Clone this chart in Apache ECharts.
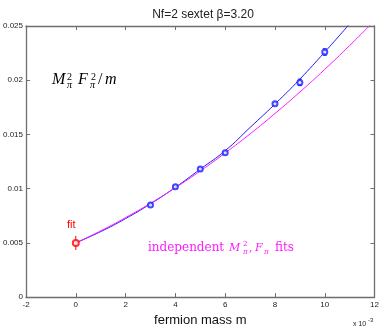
<!DOCTYPE html>
<html>
<head>
<meta charset="utf-8">
<script src="https://cdn.jsdelivr.net/npm/echarts@6/dist/echarts.min.js"></script>
<style>
  html, body { margin: 0; padding: 0; background: #fff; }
  #chart { width: 382px; height: 332px; }
</style>
</head>
<body>
<div id="chart"></div>
<script>
// x values are in units of 10^-3
var xTicks = [-2, 0, 2, 4, 6, 8, 10, 12];
var yTickLabels = ['0', '0.005', '0.01', '0.015', '0.02', '0.025'];

// measured points (blue) with error bars
var ptX = [3, 4, 5, 6, 8, 9, 10];
var ptY = [0.0085, 0.01017, 0.01182, 0.0133, 0.01784, 0.0198, 0.0226];
var ptErr = [0.0001, 0.0001, 0.0001, 0.0001, 0.0001, 0.0003, 0.0003];

// extrapolated fit point (red)
var fitX = [0];
var fitY = [0.0050];
var fitErr = [0.00065];

// blue fit curve
var blueCurveX = [0, 1, 2, 3, 4, 5, 6, 7, 8, 9, 10, 11];
var blueCurveY = [0.0050, 0.00604, 0.00724, 0.0086, 0.01012, 0.0118, 0.0135, 0.01564, 0.0178, 0.0201, 0.0226, 0.0252];

// magenta curve (independent fits)
var magCurveX = [0, 1, 2, 3, 4, 5, 6, 7, 8, 9, 10, 11, 12];
var magCurveY = [0.0050, 0.00611, 0.00733, 0.00865, 0.01009, 0.01163, 0.01329, 0.01505, 0.01693, 0.01891, 0.0210, 0.0232, 0.0255];

function zip(a, b, c) {
  return a.map(function (v, i) { return c ? [v, b[i], c[i]] : [v, b[i]]; });
}

function errorBars(color, cap) {
  return function (params, api) {
    var x = api.value(0), y = api.value(1), e = api.value(2);
    var hi = api.coord([x, y + e]);
    var lo = api.coord([x, y - e]);
    var st = { stroke: color, lineWidth: 1 };
    var kids = [{ type: 'line', shape: { x1: hi[0], y1: hi[1], x2: lo[0], y2: lo[1] }, style: st }];
    if (cap > 0) {
      kids.push({ type: 'line', shape: { x1: hi[0] - cap, y1: hi[1], x2: hi[0] + cap, y2: hi[1] }, style: st });
      kids.push({ type: 'line', shape: { x1: lo[0] - cap, y1: lo[1], x2: lo[0] + cap, y2: lo[1] }, style: st });
    }
    return { type: 'group', children: kids };
  };
}

var axisCol = '#6e6e6e';
var boxLine = { show: true, onZero: false, lineStyle: { color: axisCol, width: 1.3 } };
var tick = { show: true, inside: true, length: 4, lineStyle: { color: axisCol } };

var chart = echarts.init(document.getElementById('chart'));
var option = {
  animation: false,
  backgroundColor: '#fff',
  textStyle: { fontFamily: 'Liberation Sans' },
  title: {
    text: 'Nf=2 sextet \u03b2=3.20',
    left: 198, top: 4, textAlign: 'center',
    textStyle: { fontSize: 12, fontWeight: 'normal', color: '#222', fontFamily: 'Liberation Sans' }
  },
  grid: { left: 22, right: 7, top: 26, bottom: 28 },
  xAxis: [{
    type: 'value', min: -2, max: 12, interval: 2, position: 'bottom',
    axisLine: boxLine, axisTick: tick, splitLine: { show: false },
    axisLabel: { fontSize: 8, margin: 4, color: '#222',
      formatter: function (v) { return xTicks.indexOf(v) >= 0 ? String(v) : ''; } },
    name: 'fermion mass m', nameLocation: 'middle', nameGap: 12,
    nameTextStyle: { fontSize: 13, color: '#111', fontFamily: 'Liberation Sans' }
  }, {
    type: 'value', min: -2, max: 12, interval: 2, position: 'top',
    axisLine: boxLine, axisTick: tick, splitLine: { show: false }, axisLabel: { show: false }
  }],
  yAxis: [{
    type: 'value', min: 0, max: 0.025, interval: 0.005, position: 'left',
    axisLine: boxLine, axisTick: tick, splitLine: { show: false },
    axisLabel: { fontSize: 8, margin: 3, color: '#222',
      formatter: function (v) { return yTickLabels[Math.round(v / 0.005)]; } }
  }, {
    type: 'value', min: 0, max: 0.025, interval: 0.005, position: 'right',
    axisLine: boxLine, axisTick: tick, splitLine: { show: false }, axisLabel: { show: false }
  }],
  series: [{
    type: 'line', data: zip(blueCurveX, blueCurveY), smooth: 0.5,
    showSymbol: false, clip: true, lineStyle: { color: '#1a1aff', width: 1 }
  }, {
    type: 'line', data: zip(magCurveX, magCurveY), smooth: 0.5,
    showSymbol: false, clip: true, lineStyle: { color: '#ff1aff', width: 1 }
  }, {
    type: 'custom', data: zip(ptX, ptY, ptErr), renderItem: errorBars('#1a1aff', 2), z: 5
  }, {
    type: 'scatter', data: zip(ptX, ptY), symbol: 'emptyCircle', symbolSize: 5, z: 6,
    itemStyle: { color: '#1a1aff', borderColor: '#1a1aff', borderWidth: 1 }
  }, {
    type: 'custom', data: zip(fitX, fitY, fitErr), renderItem: errorBars('#ff0000', 0), z: 5
  }, {
    type: 'scatter', data: zip(fitX, fitY), symbol: 'emptyCircle', symbolSize: 6, z: 6,
    itemStyle: { color: '#ff0000', borderColor: '#ff0000', borderWidth: 1 }
  }],
  graphic: [
    // M_pi^2 F_pi^2 / m
    { type: 'text', left: 52, top: 72, style: { text: 'M', font: 'italic 16px "Liberation Serif"', fill: '#000' } },
    { type: 'text', left: 67, top: 72, style: { text: '2', font: '10px "Liberation Serif"', fill: '#000' } },
    { type: 'text', left: 67, top: 80, style: { text: '\u03c0', font: 'italic 10px "Liberation Serif"', fill: '#000' } },
    { type: 'text', left: 78, top: 72, style: { text: 'F', font: 'italic 16px "Liberation Serif"', fill: '#000' } },
    { type: 'text', left: 91, top: 72, style: { text: '2', font: '10px "Liberation Serif"', fill: '#000' } },
    { type: 'text', left: 90, top: 80, style: { text: '\u03c0', font: 'italic 10px "Liberation Serif"', fill: '#000' } },
    { type: 'text', left: 98, top: 72, style: { text: '/', font: '16px "Liberation Serif"', fill: '#000' } },
    { type: 'text', left: 105, top: 72, style: { text: 'm', font: 'italic 16px "Liberation Serif"', fill: '#000' } },
    // fit label
    { type: 'text', left: 67, top: 219, style: { text: 'fit', font: '11px "Liberation Sans"', fill: '#ff0000' } },
    // independent M_pi^2, F_pi fits
    { type: 'text', left: 148, top: 242, style: { text: 'independent', font: '12px "DejaVu Serif"', fill: '#ff1aff' } },
    { type: 'text', left: 229, top: 243, style: { text: 'M', font: 'italic 11px "DejaVu Serif"', fill: '#ff1aff' } },
    { type: 'text', left: 243, top: 241, style: { text: '2', font: '7px "DejaVu Serif"', fill: '#ff1aff' } },
    { type: 'text', left: 243, top: 249, style: { text: '\u03c0', font: 'italic 7px "DejaVu Serif"', fill: '#ff1aff' } },
    { type: 'text', left: 249, top: 243, style: { text: ',', font: '11px "DejaVu Serif"', fill: '#ff1aff' } },
    { type: 'text', left: 255, top: 243, style: { text: 'F', font: 'italic 11px "DejaVu Serif"', fill: '#ff1aff' } },
    { type: 'text', left: 264, top: 249, style: { text: '\u03c0', font: 'italic 7px "DejaVu Serif"', fill: '#ff1aff' } },
    { type: 'text', left: 275, top: 242, style: { text: 'fits', font: '12px "DejaVu Serif"', fill: '#ff1aff' } },
    // x 10^-3 multiplier
    { type: 'text', left: 353, top: 321, style: { text: 'x 10', font: '7px "Liberation Sans"', fill: '#222' } },
    { type: 'text', left: 368, top: 317, style: { text: '-3', font: '6px "Liberation Sans"', fill: '#222' } }
  ]
};
chart.setOption(option);
</script>
</body>
</html>
